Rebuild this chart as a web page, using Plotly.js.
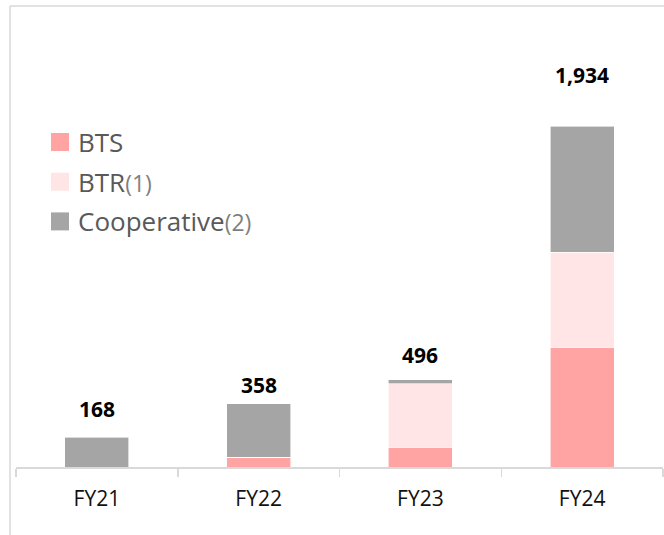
<!DOCTYPE html>
<html>
<head>
<meta charset="utf-8">
<script src="https://cdn.plot.ly/plotly-3.0.1.min.js"></script>
<style>
html,body{margin:0;padding:0;background:#fff;}
#chart{width:664px;height:535px;}
</style>
</head>
<body>
<div id="chart"></div>
<script>
// ---- data ----
const categories = ['FY21', 'FY22', 'FY23', 'FY24'];
const btsValues = [0, 55, 112, 678];
const btrValues = [0, 0, 359, 540];
const coopValues = [168, 303, 25, 716];
const totalLabels = ['168', '358', '496', '1,934'];
const seriesNames = ['BTS', 'BTR', 'Cooperative'];
const seriesNotes = ['', '(1)', '(2)'];

// ---- styles ----
const colors = ['#FFA3A3', '#FFE5E5', '#A5A5A5'];
const labelLift = [28, 19, 25, 51]; // px above bar top for each total label

const W = 664, H = 535;
const M = {l: 16, r: 1, t: 40, b: 68};
const PW = W - M.l - M.r, PH = H - M.t - M.b;
const pxX = px => (px - M.l) / PW;
const pxY = py => (H - M.b - py) / PH;
const yMax = PH * 1934 / 341;

const seriesVals = [btsValues, btrValues, coopValues];
const traces = seriesVals.map((vals, i) => ({
  type: 'bar',
  name: seriesNames[i],
  x: categories,
  y: vals,
  marker: {color: colors[i], line: {color: '#ffffff', width: 0.6}},
  width: 0.396,
  hoverinfo: 'x+y+name',
  showlegend: false
}));

const totals = categories.map((c, k) => btsValues[k] + btrValues[k] + coopValues[k]);

const annotations = categories.map((c, k) => ({
  x: c, y: totals[k], xref: 'x', yref: 'y',
  text: '<b>' + totalLabels[k] + '</b>',
  showarrow: false, yanchor: 'middle', yshift: labelLift[k],
  font: {family: 'Open Sans, sans-serif', size: 21, color: '#000000'}
}));

const shapes = [
  // slide frame lines
  {type: 'line', xref: 'paper', yref: 'paper', x0: pxX(10), x1: pxX(664), y0: pxY(6), y1: pxY(6),
   line: {color: '#d9d9d9', width: 1.5}},
  {type: 'line', xref: 'paper', yref: 'paper', x0: pxX(10), x1: pxX(10), y0: pxY(6), y1: pxY(535),
   line: {color: '#d9d9d9', width: 1.5}}
];

// manual legend
const legendTop = 142, legendStep = 39.7;
seriesNames.forEach((n, i) => {
  const cy = legendTop + i * legendStep;
  shapes.push({type: 'rect', xref: 'paper', yref: 'paper',
    x0: pxX(51), x1: pxX(69), y0: pxY(cy - 9), y1: pxY(cy + 9),
    fillcolor: colors[i], line: {width: 0}});
  let txt = n;
  if (seriesNotes[i]) txt += '<span style="font-size:23px;color:#7f7f7f">' + seriesNotes[i] + '</span>';
  annotations.push({xref: 'paper', yref: 'paper', x: pxX(76), y: pxY(cy),
    xanchor: 'left', yanchor: 'middle', showarrow: false, text: txt,
    font: {family: 'Open Sans, sans-serif', size: 26, color: '#595959'}});
});

const layout = {
  width: W, height: H,
  margin: M,
  barmode: 'stack',
  paper_bgcolor: '#ffffff', plot_bgcolor: '#ffffff',
  showlegend: false,
  xaxis: {
    type: 'category', range: [-0.5, 3.5],
    showline: true, linecolor: '#d9d9d9', linewidth: 1.5,
    ticks: 'outside', tickson: 'boundaries', ticklen: 8, tickcolor: '#d9d9d9', tickwidth: 1.5,
    ticklabelstandoff: 12,
    tickfont: {family: 'Open Sans, sans-serif', size: 21, color: '#111111'},
    showgrid: false, zeroline: false, fixedrange: true
  },
  yaxis: {
    range: [0, yMax], visible: false, showgrid: false, zeroline: false, fixedrange: true
  },
  annotations: annotations,
  shapes: shapes
};

Plotly.newPlot('chart', traces, layout, {displayModeBar: false, staticPlot: true});
</script>
</body>
</html>
